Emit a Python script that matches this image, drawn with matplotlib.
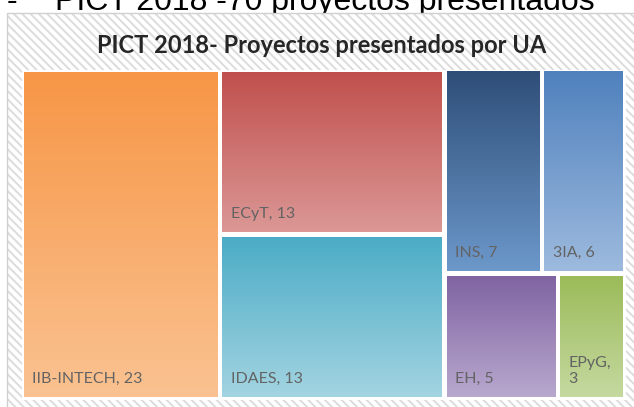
import numpy as np
import matplotlib.pyplot as plt
from matplotlib.patches import Rectangle
from matplotlib.colors import LinearSegmentedColormap

# data
names = ['IIB-INTECH', 'ECyT', 'IDAES', 'INS', '3IA', 'EH', 'EPyG']
counts = [23, 13, 13, 7, 6, 5, 3]
top_colors = ['#F79646', '#C0504D', '#4BACC6', '#2E4E78', '#4F81BD', '#8064A2', '#9BBB59']
bot_colors = ['#FAC291', '#DB9896', '#A3D4E1', '#6C98CA', '#9DBADE', '#B8A8CE', '#C5D9A0']
title = 'PICT 2018- Proyectos presentados por UA'
header = 'PICT 2018 -70 proyectos presentados'

# grouping used by the treemap: columns, and rows inside the last column
groups = [[0], [1, 2], [[3, 4], [5, 6]]]


def split(idx_list, rect, vertical):
    """slice rect along one direction proportional to the summed counts"""
    x0, y0, x1, y1 = rect
    def total(g):
        return sum(total(i) for i in g) if isinstance(g, list) else counts[g]
    tot = sum(total(g) for g in idx_list)
    out = []
    pos = y0 if vertical else x0
    for g in idx_list:
        frac = total(g) / tot
        if vertical:
            r = (x0, pos, x1, pos + frac * (y1 - y0))
            pos = r[3]
        else:
            r = (pos, y0, pos + frac * (x1 - x0), y1)
            pos = r[2]
        if isinstance(g, list) and len(g) > 1:
            out += split(g, r, not vertical)
        elif isinstance(g, list):
            out.append((g[0], r))
        else:
            out.append((g, r))
    return out


plt.rcParams['hatch.linewidth'] = 1.4

fig = plt.figure(figsize=(6.34, 4.07), dpi=100)
ax = fig.add_axes([0, 0, 1, 1])
W, H = 634, 407

# slide header line, partly hidden by the chart
ax.text(7, 10, '-', fontsize=23, family='Liberation Sans', va='baseline', zorder=1)
ax.text(55, 10, header, fontsize=23, family='Liberation Sans', va='baseline', zorder=1)

# chart area with striped background
ax.add_patch(Rectangle((7, 13), 700, 500, facecolor='white', edgecolor='#dcdcdc',
                       hatch='\\\\\\\\', linewidth=0, zorder=2))
ax.add_patch(Rectangle((7, 13), 700, 500, facecolor='none', edgecolor='#d0d0d0',
                       linewidth=1, zorder=2))

ax.text(322, 53, title, fontsize=17, fontweight='bold', family='Lato',
        color='#262626', ha='center', va='baseline', zorder=5)

area = (21.5, 69.5, 625.5, 399.5)
ax.add_patch(Rectangle((area[0], area[1]), area[2] - area[0], area[3] - area[1],
                       facecolor='white', edgecolor='none', zorder=3))

gap = 2.5
grad = np.linspace(0, 1, 256).reshape(-1, 1)
fig.canvas.draw()
renderer = fig.canvas.get_renderer()
for i, (x0, y0, x1, y1) in split(groups, area, False):
    x0, y0, x1, y1 = x0 + gap, y0 + gap, x1 - gap, y1 - gap
    cmap = LinearSegmentedColormap.from_list(names[i], [top_colors[i], bot_colors[i]])
    ax.imshow(grad, extent=(x0, x1, y1, y0), cmap=cmap, aspect='auto', zorder=4)
    lab = f'{names[i]}, {counts[i]}'
    t = ax.text(x0 + 8.5, y1 - 14, lab, fontsize=11.5, family='Lato', color='#636363',
                va='baseline', zorder=5)
    if t.get_window_extent(renderer).width > (x1 - x0) - 12:
        t.set_text(f'{names[i]},\n{counts[i]}')
        t.set_linespacing(1.2)

ax.set_xlim(0, W)
ax.set_ylim(H, 0)
ax.axis('off')
fig.savefig('out.png', dpi=100)
